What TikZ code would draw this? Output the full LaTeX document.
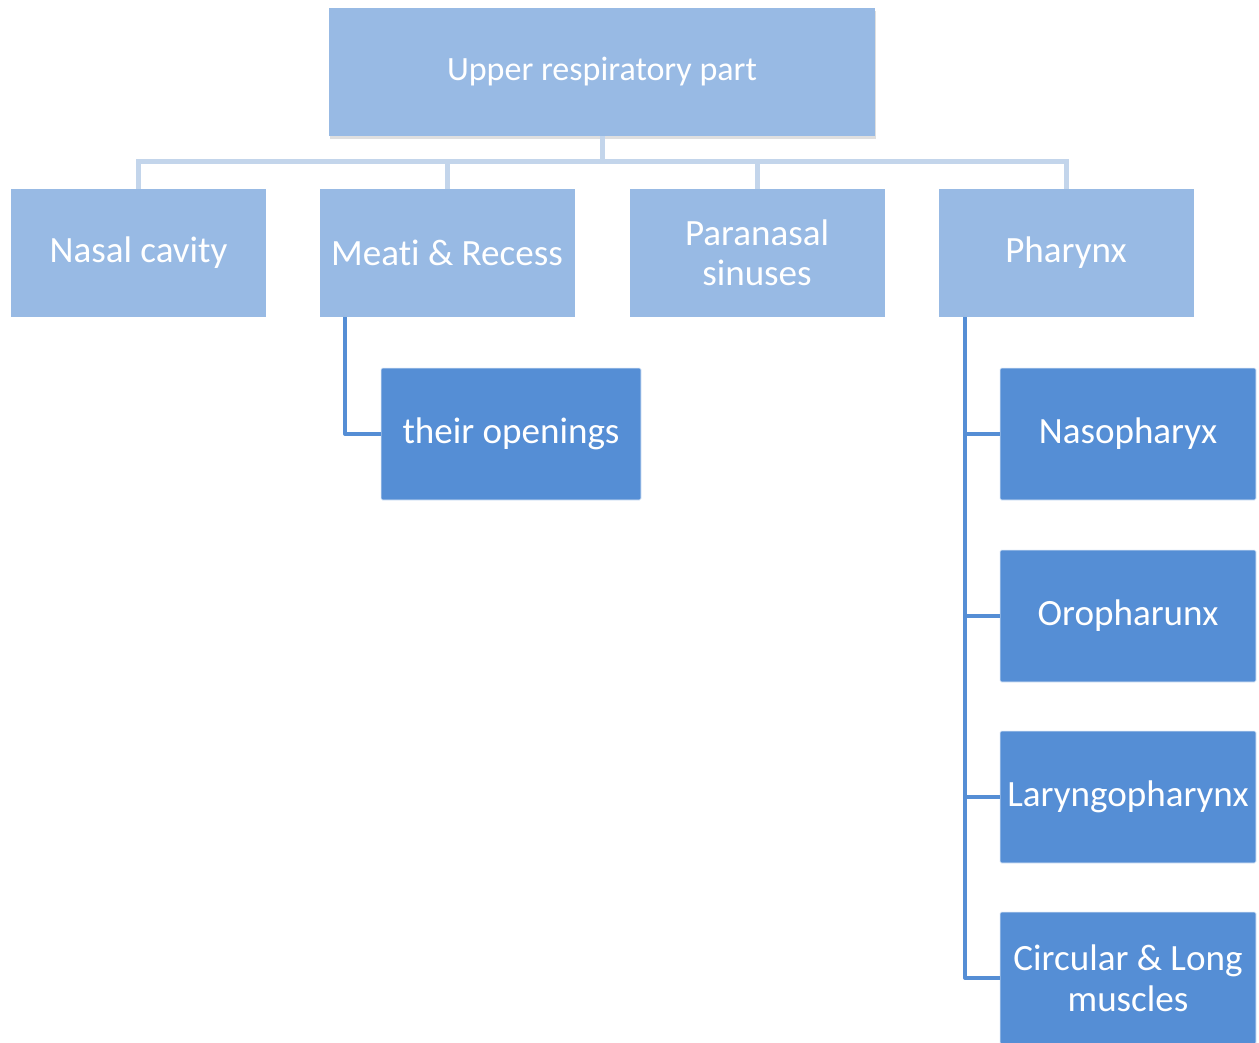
\documentclass[tikz,border=0pt]{standalone}
\usepackage{fontspec}
\setmainfont[Ligatures=NoCommon]{Carlito}
\usetikzlibrary{positioning,shadows}
\definecolor{upblue}{HTML}{98BAE4}
\definecolor{lowblue}{HTML}{558ED5}
\definecolor{linkblue}{HTML}{C3D5EB}
\tikzset{
  headbox/.style={fill=upblue, text=white, minimum width=409.5pt, minimum height=96pt, align=center, font=\fontsize{25.5}{30}\selectfont, drop shadow={shadow xshift=1pt, shadow yshift=-2pt, opacity=0.25}},
  partbox/.style={fill=upblue, text=white, minimum width=191.25pt, minimum height=96pt, align=center, font=\fontsize{27.8}{30}\selectfont},
  subbox/.style={fill=lowblue, draw=white!85!lowblue, line width=0.6pt, rounded corners=1pt, text=white, minimum width=192pt, minimum height=99pt, align=center, font=\fontsize{27.8}{30.5}\selectfont},
  link/.style={draw=linkblue, line width=3.75pt},
  sublink/.style={draw=lowblue, line width=3pt, line join=round}
}
\begin{document}
\begin{tikzpicture}[x=0.75pt, y=-0.75pt]
  \useasboundingbox (0,0) rectangle (1259,1042);
  \node[headbox] (upper) at (602,72) {Upper respiratory part};
  \node[partbox] (nasal) at (138.5,253) {Nasal cavity};
  \node[partbox] (meati) at (447,253) {Meati \& Recess};
  \node[partbox] (sinus) at (757,253) {Paranasal\\sinuses};
  \node[partbox] (pharynx) at (1066,253) {Pharynx};

  \node[subbox, minimum width=195pt] (openings) at (511,434) {their openings};
  \node[subbox] (naso) at (1128,434) {Nasopharyx};
  \node[subbox] (oro) at (1128,616) {Oropharunx};
  \node[subbox] (laryngo) at (1128,797) {Laryngopharynx};
  \node[subbox] (muscles) at (1128,978) {Circular \& Long\\muscles};

  % first level
  \draw[link] (upper.south) -- ++(0,25) -| (nasal.north);
  \draw[link] (upper.south) -- ++(0,25) -| (meati.north);
  \draw[link] (upper.south) -- ++(0,25) -| (sinus.north);
  \draw[link] (upper.south) -- ++(0,25) -| (pharynx.north);

  % second level
  \draw[sublink] ([xshift=19.5pt]meati.south west) |- (openings.west);
  \draw[sublink] ([xshift=20.25pt]pharynx.south west) |- (naso.west);
  \draw[sublink] ([xshift=20.25pt]pharynx.south west) |- (oro.west);
  \draw[sublink] ([xshift=20.25pt]pharynx.south west) |- (laryngo.west);
  \draw[sublink] ([xshift=20.25pt]pharynx.south west) |- (muscles.west);
\end{tikzpicture}
\end{document}
